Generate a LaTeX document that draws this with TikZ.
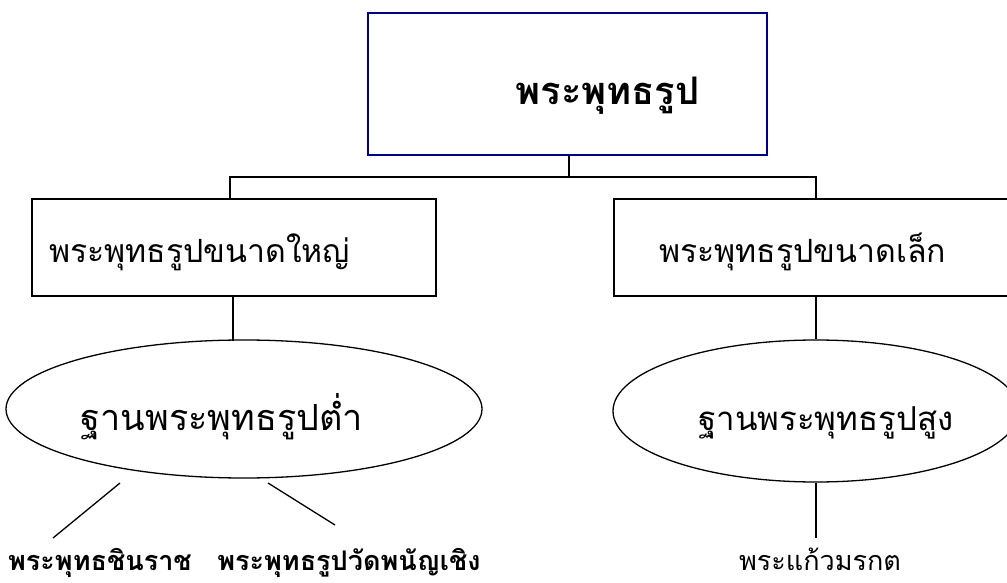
\documentclass[tikz,border=0pt]{standalone}
\usepackage{fontspec}
\newfontfamily\thaifont[Script=Thai]{Loma}
\usetikzlibrary{shapes.geometric}
\definecolor{boxblue}{RGB}{0,0,128}
\newcommand{\kbox}[4]{
	\node[draw = #3, line width = 2.6, rectangle, minimum width = #1, minimum height = #2, #4]
}
\newcommand{\koval}[3]{
	\node[draw, ellipse, line width = 1.3, minimum width = #1, minimum height = #2, text depth = 8, #3]
}

\begin{document}
\begin{tikzpicture}[x = 1pt, y = -1pt, line width = 2.6]
		\clip (0,0) rectangle (1007,583);

		\kbox{399}{142}{boxblue}{font = \thaifont\bfseries\fontsize{38}{44}\selectfont, text height = 50, text depth = 8} (top) at (567.5, 84) {\hspace*{80pt}พระพุทธรูป};
		\kbox{404}{97}{black}{font = \thaifont\fontsize{32}{38}\selectfont, text width = 370, align = left, inner xsep = 17, text height = 37, text depth = 8} (big) at (234, 247.5) {พระพุทธรูปขนาดใหญ่};
		\kbox{404}{97}{black}{font = \thaifont\fontsize{32}{38}\selectfont, text width = 314, align = left, inner xsep = 45, text height = 37, text depth = 8} (small) at (816, 247.5) {พระพุทธรูปขนาดเล็ก};

		\koval{476}{138}{font = \thaifont\fontsize{36}{42}\selectfont, text height = 50} (low) at (244, 409) {ฐานพระพุทธรูปต่ำ\hspace*{44pt}};
		\koval{406}{142}{font = \thaifont\fontsize{33}{39}\selectfont, text height = 46} (high) at (816, 411) {\hspace*{20pt}ฐานพระพุทธรูปสูง};

		\node[anchor = base, font = \thaifont\bfseries\fontsize{27}{32}\selectfont] (chinnarat) at (100, 570) {พระพุทธชินราช};
		\node[anchor = base, font = \thaifont\bfseries\fontsize{27}{32}\selectfont] (phananchoeng) at (349, 570) {พระพุทธรูปวัดพนัญเชิง};
		\node[anchor = base, font = \thaifont\fontsize{27}{32}\selectfont] (morakot) at (820, 570) {พระแก้วมรกต};

		\coordinate (split) at (569, 177);
		\coordinate (l1) at (120, 483);
		\coordinate (l2) at (53, 538);
		\coordinate (r1) at (268, 483);
		\coordinate (r2) at (335, 525);
		\coordinate (m2) at (816, 538);

		\draw (top.south -| split) -- (split);
		\draw (big.north -| 230,0) |- (split) -| (small.north);
		\draw (big.south -| 233,0) -- (233, 341);
		\draw (small.south) -- (high.north);
		\draw[line width = 1.3] (l1) -- (l2);
		\draw[line width = 1.3] (r1) -- (r2);
		\draw[line width = 1.3] (high.south) -- (m2);
	\end{tikzpicture}
\end{document}
